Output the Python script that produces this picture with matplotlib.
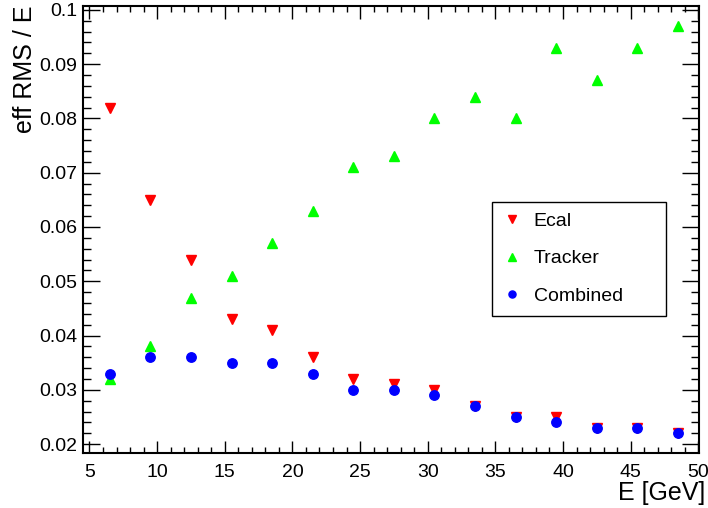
import matplotlib
matplotlib.use("Agg")
import matplotlib.pyplot as plt
from matplotlib.ticker import MultipleLocator

plt.rcParams['font.family'] = ['Liberation Sans', 'DejaVu Sans']

# Beam energy bins (GeV)
energy = [6.5, 9.5, 12.5, 15.5, 18.5, 21.5, 24.5, 27.5, 30.5, 33.5, 36.5, 39.5, 42.5, 45.5, 48.5]

# Effective RMS / E for each reconstruction
ecal = [0.082, 0.065, 0.054, 0.043, 0.041, 0.036, 0.032, 0.031, 0.030, 0.027, 0.025, 0.025, 0.023, 0.023, 0.022]
tracker = [0.032, 0.038, 0.047, 0.051, 0.057, 0.063, 0.071, 0.073, 0.080, 0.084, 0.080, 0.093, 0.087, 0.093, 0.097]
combined = [0.033, 0.036, 0.036, 0.035, 0.035, 0.033, 0.030, 0.030, 0.029, 0.027, 0.025, 0.024, 0.023, 0.023, 0.022]

W, H = 708, 508
fig = plt.figure(figsize=(W / 100, H / 100), dpi=100)
ax = fig.add_axes([82.7 / W, 1 - 453.3 / H, (699 - 82.7) / W, (453.3 - 5.5) / H])

ax.plot(energy, ecal, linestyle='none', marker='v', markersize=6.8, color='#ff0000', label='Ecal')
ax.plot(energy, tracker, linestyle='none', marker='^', markersize=6.8, color='#00ff00', label='Tracker')
ax.plot(energy, combined, linestyle='none', marker='o', markersize=6.8, color='#0000ff', label='Combined')

ax.set_xlim(4.5, 50.05)
ax.set_ylim(0.0183, 0.1008)

ax.xaxis.set_major_locator(MultipleLocator(5))
ax.xaxis.set_minor_locator(MultipleLocator(1))
ax.yaxis.set_major_locator(MultipleLocator(0.01))
ax.yaxis.set_minor_locator(MultipleLocator(0.002))
ax.yaxis.set_major_formatter(plt.FuncFormatter(lambda v, p: f"{v:.2f}".rstrip('0') if abs(v - 0.1) < 1e-9 else f"{v:.2f}"))

ax.tick_params(axis='both', which='both', direction='in', top=True, right=True,
               labelsize=14, width=1, color='black')
ax.tick_params(axis='x', which='major', length=9, pad=7.5)
ax.tick_params(axis='x', which='minor', length=4.5)
ax.tick_params(axis='y', which='major', length=12, pad=4)
ax.tick_params(axis='y', which='minor', length=6)

for s in ax.spines.values():
    s.set_linewidth(1.5)

ax.set_xlabel('E [GeV]', fontsize=18, loc='right')
ax.xaxis.set_label_coords(1.0097, -0.062)
ax.set_ylabel('eff RMS / E', fontsize=18, loc='top')
ax.yaxis.set_label_coords(-0.0742, 1.0)

lx0, lx1, ly0 = 491.7, 665.7, 201.7
leg = ax.legend(loc='upper left',
                bbox_to_anchor=(lx0 / W, 1 - ly0 / H - 0.2, (lx1 - lx0) / W, 0.2),
                bbox_transform=fig.transFigure, mode='expand', fontsize=14, frameon=True,
                fancybox=False, edgecolor='black', framealpha=1,
                borderpad=0.55, labelspacing=1.02, handlelength=1.0,
                handletextpad=0.6, borderaxespad=0, markerscale=0.75)
leg.get_frame().set_linewidth(1.0)

fig.savefig('out.png', dpi=100)
